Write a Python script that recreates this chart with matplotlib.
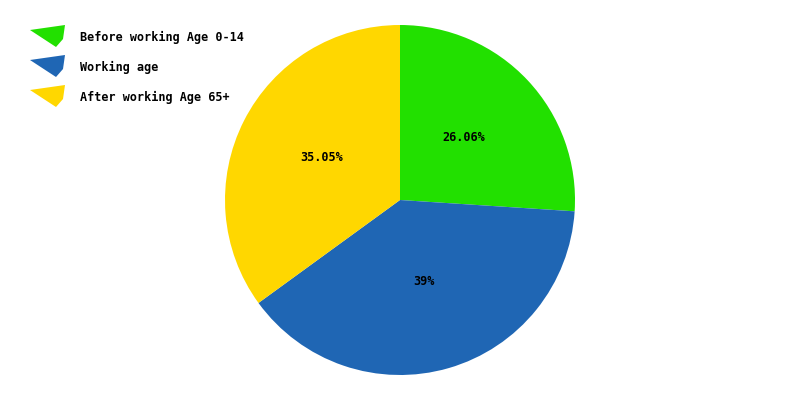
import matplotlib
matplotlib.use("Agg")
import matplotlib.pyplot as plt
from matplotlib.patches import Polygon

# == DATA =================================================================== #
categories = ['Before working Age 0-14', 'Working age', 'After working Age 65+']
values = [26.06, 39.0, 35.05]
pct_labels = ['26.06%', '39%', '35.05%']
colors = ['#22e000', '#1f66b4', '#ffd700']

# == PLOT =================================================================== #
fig = plt.figure(figsize=(8, 4), dpi=100)
ax = fig.add_axes([0, 0, 1, 1])

lbl_iter = iter(pct_labels)
wedges, texts, autotexts = ax.pie(values, colors=colors, startangle=90,
                                  counterclock=False, center=(400, 200),
                                  radius=175, pctdistance=0.5,
                                  autopct=lambda p: next(lbl_iter),
                                  wedgeprops=dict(linewidth=0),
                                  textprops=dict(family='DejaVu Sans Mono',
                                                 weight='bold', fontsize=8.5,
                                                 color='black'))
# nudge labels up a little, like the reference
for t in autotexts:
    x, y = t.get_position()
    t.set_position((x, y + 3))

# limits in pixel units (set after pie, which autoscales)
ax.set_xlim(0, 800)
ax.set_ylim(0, 400)
ax.set_aspect('equal')
ax.axis('off')

# legend with wedge-shaped icons
for i, (name, col) in enumerate(zip(categories, colors)):
    yc = 400 - (37 + 30 * i)
    icon = Polygon([(30, yc + 7), (65, yc + 12), (63, yc - 2), (56, yc - 10)],
                   closed=True, facecolor=col, edgecolor='none')
    ax.add_patch(icon)
    ax.text(80, yc, name, family='DejaVu Sans Mono', weight='bold',
            fontsize=8.5, va='center', ha='left', color='black')

fig.savefig('out.png', dpi=100)
